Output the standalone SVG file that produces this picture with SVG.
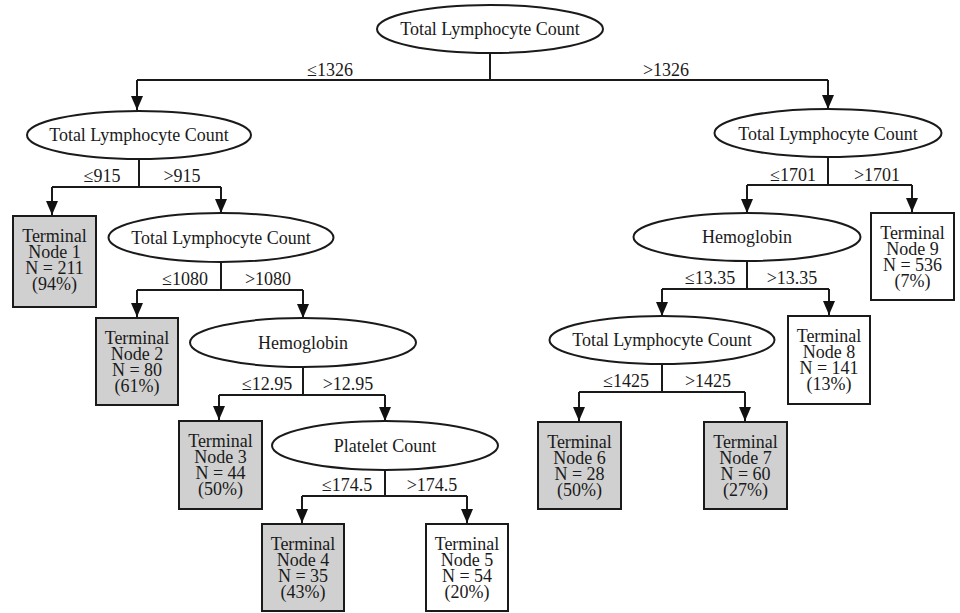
<svg xmlns="http://www.w3.org/2000/svg" width="960" height="613" viewBox="0 0 960 613">
<defs>
<marker id="arr" markerUnits="userSpaceOnUse" markerWidth="12" markerHeight="14" viewBox="0 0 12 14" refX="6" refY="14" orient="auto">
<path d="M0,0 L12,7 L0,14 Z" fill="#111" transform="rotate(0)"/>
</marker>
<marker id="ad" markerUnits="userSpaceOnUse" markerWidth="12" markerHeight="14" viewBox="0 0 12 14" refX="6" refY="14" orient="0">
<path d="M0,0 L12,0 L6,14 Z" fill="#111"/>
</marker>
</defs>
<style>
.e{fill:#fff;stroke:#1a1a1a;stroke-width:2}
.b{fill:#fff;stroke:#1a1a1a;stroke-width:2}
.g{fill:#d0d0d0}
text{font-family:"Liberation Serif","Times New Roman",serif;font-size:18px;fill:#1a1a1a;text-anchor:middle}
.c line,.c path{stroke:#1a1a1a;stroke-width:2;fill:none}
.a{marker-end:url(#ad)}
</style>
<rect width="960" height="613" fill="#fff"/>
<g class="c" id="connectors">
<path d="M490,53 V80 M137,80 H828"/>
<path class="a" d="M137,80 V110"/><path class="a" d="M828,80 V109"/>
<path d="M139,159 V187 M52,187 H221"/>
<path class="a" d="M52,187 V215"/><path class="a" d="M221,187 V213"/>
<path d="M221,262 V290 M137,290 H303"/>
<path class="a" d="M137,290 V317"/><path class="a" d="M303,290 V318"/>
<path d="M303,367 V395 M219,395 H385"/>
<path class="a" d="M219,395 V420"/><path class="a" d="M385,395 V421"/>
<path d="M385,470 V496 M302,496 H467"/>
<path class="a" d="M302,496 V523"/><path class="a" d="M467,496 V523"/>
<path d="M828,157 V185 M747,185 H912"/>
<path class="a" d="M747,185 V213"/><path class="a" d="M912,185 V212"/>
<path d="M747,261 V289 M662,289 H829"/>
<path class="a" d="M662,289 V316"/><path class="a" d="M829,289 V315"/>
<path d="M662,364 V392 M579,392 H745"/>
<path class="a" d="M579,392 V421"/><path class="a" d="M745,392 V421"/>
<text x="330" y="76">≤1326</text><text x="666" y="76">&gt;1326</text>
<text x="102" y="182">≤915</text><text x="182" y="182">&gt;915</text>
<text x="185" y="285">≤1080</text><text x="268" y="285">&gt;1080</text>
<text x="267" y="390">≤12.95</text><text x="348" y="390">&gt;12.95</text>
<text x="347" y="491">≤174.5</text><text x="432" y="491">&gt;174.5</text>
<text x="793" y="181">≤1701</text><text x="877" y="181">&gt;1701</text>
<text x="710" y="284">≤13.35</text><text x="792" y="284">&gt;13.35</text>
<text x="626" y="387">≤1425</text><text x="708" y="387">&gt;1425</text>
</g>
<g id="n-root"><ellipse class="e" cx="490" cy="29" rx="113" ry="24"/><text x="490" y="35">Total Lymphocyte Count</text></g>
<g id="n-tlc-l"><ellipse class="e" cx="139" cy="135" rx="112" ry="24"/><text x="139" y="141">Total Lymphocyte Count</text></g>
<g id="n-tlc-l2"><ellipse class="e" cx="221" cy="237.5" rx="112.5" ry="24.5"/><text x="221" y="244">Total Lymphocyte Count</text></g>
<g id="n-hgb-l"><ellipse class="e" cx="303" cy="342.5" rx="113" ry="24.5"/><text x="303" y="349">Hemoglobin</text></g>
<g id="n-plt"><ellipse class="e" cx="385" cy="445.5" rx="113" ry="24.5"/><text x="385" y="452">Platelet Count</text></g>
<g id="n-tlc-r"><ellipse class="e" cx="828" cy="133" rx="113.5" ry="24"/><text x="828" y="140">Total Lymphocyte Count</text></g>
<g id="n-hgb-r"><ellipse class="e" cx="747" cy="237" rx="113.5" ry="24"/><text x="747" y="243">Hemoglobin</text></g>
<g id="n-tlc-r2"><ellipse class="e" cx="662" cy="340" rx="112.5" ry="24"/><text x="662" y="346">Total Lymphocyte Count</text></g>
<g id="t1"><rect class="b g" x="13" y="216" width="83" height="91"/><text x="54.5" y="242">Terminal<tspan x="54.5" dy="16">Node 1</tspan><tspan x="54.5" dy="16">N = 211</tspan><tspan x="54.5" dy="16">(94%)</tspan></text></g>
<g id="t2"><rect class="b g" x="96" y="318" width="82" height="87"/><text x="137" y="344">Terminal<tspan x="137" dy="16">Node 2</tspan><tspan x="137" dy="16">N = 80</tspan><tspan x="137" dy="16">(61%)</tspan></text></g>
<g id="t3"><rect class="b g" x="179" y="421" width="83" height="88"/><text x="220.5" y="447">Terminal<tspan x="220.5" dy="16">Node 3</tspan><tspan x="220.5" dy="16">N = 44</tspan><tspan x="220.5" dy="16">(50%)</tspan></text></g>
<g id="t4"><rect class="b g" x="262" y="524" width="82" height="87"/><text x="303" y="550">Terminal<tspan x="303" dy="16">Node 4</tspan><tspan x="303" dy="16">N = 35</tspan><tspan x="303" dy="16">(43%)</tspan></text></g>
<g id="t5"><rect class="b" x="426" y="524" width="82" height="87"/><text x="467" y="550">Terminal<tspan x="467" dy="16">Node 5</tspan><tspan x="467" dy="16">N = 54</tspan><tspan x="467" dy="16">(20%)</tspan></text></g>
<g id="t6"><rect class="b g" x="538" y="422" width="83" height="87"/><text x="579.5" y="448">Terminal<tspan x="579.5" dy="16">Node 6</tspan><tspan x="579.5" dy="16">N = 28</tspan><tspan x="579.5" dy="16">(50%)</tspan></text></g>
<g id="t7"><rect class="b g" x="704" y="422" width="83" height="87"/><text x="745.5" y="448">Terminal<tspan x="745.5" dy="16">Node 7</tspan><tspan x="745.5" dy="16">N = 60</tspan><tspan x="745.5" dy="16">(27%)</tspan></text></g>
<g id="t8"><rect class="b" x="788" y="316" width="82" height="88"/><text x="829" y="342">Terminal<tspan x="829" dy="16">Node 8</tspan><tspan x="829" dy="16">N = 141</tspan><tspan x="829" dy="16">(13%)</tspan></text></g>
<g id="t9"><rect class="b" x="871" y="213" width="83" height="87"/><text x="912.5" y="239">Terminal<tspan x="912.5" dy="16">Node 9</tspan><tspan x="912.5" dy="16">N = 536</tspan><tspan x="912.5" dy="16">(7%)</tspan></text></g>
</svg>
